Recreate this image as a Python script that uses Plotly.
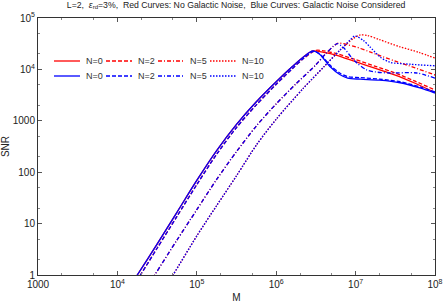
import plotly.graph_objects as go

# ---- data (log10 M, log10 SNR) ----
red_n0_logm = [4.0, 4.25, 4.5, 4.75, 5.0, 5.25, 5.5, 5.75, 6.0, 6.2, 6.35, 6.46, 6.6, 6.75, 7.0, 7.25, 7.5, 7.75, 8.0]
red_n0_logs = [-0.6, 0.0, 0.6, 1.22, 1.84, 2.42, 2.93, 3.37, 3.76, 4.05, 4.25, 4.36, 4.33, 4.28, 4.15, 4.02, 3.89, 3.73, 3.55]

red_n2_logm = [4.0, 4.29, 4.5, 4.75, 5.0, 5.25, 5.5, 5.75, 6.0, 6.2, 6.35, 6.5, 6.6, 6.75, 7.0, 7.25, 7.5, 7.75, 8.0]
red_n2_logs = [-0.7, 0.0, 0.52, 1.14, 1.76, 2.35, 2.87, 3.31, 3.71, 4.01, 4.22, 4.37, 4.36, 4.31, 4.19, 4.06, 3.93, 3.77, 3.6]

red_n5_logm = [4.2, 4.47, 4.75, 5.0, 5.25, 5.5, 5.75, 6.0, 6.25, 6.5, 6.62, 6.72, 6.78, 6.85, 6.9, 7.0, 7.18, 7.5, 7.75, 8.0]
red_n5_logs = [-0.65, 0.0, 0.68, 1.27, 1.86, 2.4, 2.9, 3.33, 3.72, 4.09, 4.3, 4.45, 4.51, 4.5, 4.48, 4.44, 4.34, 4.16, 4.03, 3.89]

red_n10_logm = [4.45, 4.7, 5.0, 5.25, 5.5, 5.76, 6.0, 6.34, 6.6, 6.8, 6.97, 7.06, 7.15, 7.3, 7.56, 7.8, 8.0]
red_n10_logs = [-0.6, 0.0, 0.76, 1.35, 1.93, 2.55, 3.03, 3.63, 4.05, 4.37, 4.6, 4.67, 4.66, 4.58, 4.44, 4.33, 4.22]

blue_n0_logm = [4.0, 4.25, 4.5, 4.75, 5.0, 5.25, 5.5, 5.75, 6.0, 6.2, 6.35, 6.46, 6.55, 6.68, 6.8, 6.9, 7.06, 7.3, 7.56, 7.81, 8.0]
blue_n0_logs = [-0.6, 0.0, 0.6, 1.22, 1.84, 2.42, 2.93, 3.37, 3.76, 4.05, 4.25, 4.36, 4.29, 4.05, 3.9, 3.83, 3.81, 3.79, 3.74, 3.64, 3.54]

blue_n2_logm = [4.0, 4.29, 4.5, 4.75, 5.0, 5.25, 5.5, 5.75, 6.0, 6.2, 6.35, 6.47, 6.55, 6.68, 6.8, 6.9, 7.06, 7.3, 7.56, 7.81, 8.0]
blue_n2_logs = [-0.7, 0.0, 0.52, 1.14, 1.76, 2.35, 2.87, 3.31, 3.71, 4.01, 4.22, 4.35, 4.3, 4.08, 3.93, 3.86, 3.84, 3.81, 3.76, 3.66, 3.56]

blue_n5_logm = [4.2, 4.47, 4.75, 5.0, 5.25, 5.5, 5.75, 6.0, 6.25, 6.5, 6.62, 6.72, 6.77, 6.85, 6.95, 7.02, 7.14, 7.25, 7.43, 7.77, 8.0]
blue_n5_logs = [-0.65, 0.0, 0.68, 1.27, 1.86, 2.4, 2.9, 3.33, 3.72, 4.09, 4.3, 4.45, 4.5, 4.42, 4.23, 4.12, 3.99, 3.95, 3.93, 3.93, 3.83]

blue_n10_logm = [4.45, 4.7, 5.0, 5.25, 5.5, 5.76, 6.0, 6.34, 6.6, 6.8, 6.93, 6.99, 7.1, 7.18, 7.31, 7.43, 7.69, 8.0]
blue_n10_logs = [-0.6, 0.0, 0.76, 1.35, 1.93, 2.55, 3.03, 3.63, 4.05, 4.37, 4.57, 4.65, 4.56, 4.44, 4.24, 4.14, 4.10, 4.07]

labels = ["N=0", "N=2", "N=5", "N=10"]
dashes = ["solid", "4px,2px", "4px,2px,1px,2px", "1.5px,1.5px"]

x_tickvals = [1e3, 1e4, 1e5, 1e6, 1e7, 1e8]
x_ticktext = ["1000", "10<sup>4</sup>", "10<sup>5</sup>", "10<sup>6</sup>", "10<sup>7</sup>", "10<sup>8</sup>"]
y_tickvals = [1, 10, 100, 1000, 1e4, 1e5]
y_ticktext = ["1", "10", "100", "1000", "10<sup>4</sup>", "10<sup>5</sup>"]

red_sets = [(red_n0_logm, red_n0_logs), (red_n2_logm, red_n2_logs), (red_n5_logm, red_n5_logs), (red_n10_logm, red_n10_logs)]
blue_sets = [(blue_n0_logm, blue_n0_logs), (blue_n2_logm, blue_n2_logs), (blue_n5_logm, blue_n5_logs), (blue_n10_logm, blue_n10_logs)]

W, H = 443, 305
ML, MR, MT, MB = 38, 8, 18, 30
PW, PH = W - ML - MR, H - MT - MB

fig = go.Figure()
for (lm, ls), lab, d in zip(red_sets, labels, dashes):
    fig.add_trace(go.Scatter(x=[10 ** v for v in lm], y=[10 ** v for v in ls], mode="lines",
                             line=dict(color="#ff0000", width=1.3, dash=d, shape="spline", smoothing=0.8),
                             name=lab, showlegend=False))
for (lm, ls), lab, d in zip(blue_sets, labels, dashes):
    fig.add_trace(go.Scatter(x=[10 ** v for v in lm], y=[10 ** v for v in ls], mode="lines",
                             line=dict(color="#0000ff", width=1.3, dash=d, shape="spline", smoothing=0.8),
                             name=lab, showlegend=False))

# manual two-row legend (swatch + label), placed in pixel terms of the plot area
def px2paper(px, py):
    return (px - ML) / PW, (H - MB - py) / PH

leg_font = dict(family="Liberation Sans, Arial, sans-serif", size=9, color="#333")
shapes, annots = [], []
for row_y, color in [(61, "#ff0000"), (76, "#0000ff")]:
    for i, (lab, d) in enumerate(zip(labels, dashes)):
        x0 = 54 + 52 * i
        a0, b0 = px2paper(x0, row_y)
        a1, _ = px2paper(x0 + 26, row_y)
        shapes.append(dict(type="line", xref="paper", yref="paper", x0=a0, x1=a1, y0=b0, y1=b0,
                           line=dict(color=color, width=1.3, dash=d)))
        at, _ = px2paper(x0 + 30, row_y)
        annots.append(dict(xref="paper", yref="paper", x=at, y=b0, text=lab, showarrow=False,
                           xanchor="left", yanchor="middle", font=leg_font))

font = dict(family="Liberation Sans, Arial, sans-serif", size=10, color="#222")
axis_common = dict(showline=True, linecolor="#333", linewidth=1, mirror="ticks", ticks="inside",
                   ticklen=4, tickcolor="#555", showgrid=False, zeroline=False, tickfont=font,
                   automargin=False,
                   minor=dict(ticks="inside", ticklen=2, tickcolor="#888", showgrid=False))
fig.update_xaxes(type="log", range=[3, 8], tickvals=x_tickvals, ticktext=x_ticktext,
                 title=dict(text="M", font=font, standoff=4), **axis_common)
fig.update_yaxes(type="log", range=[0, 5], tickvals=y_tickvals, ticktext=y_ticktext,
                 title=dict(text="SNR", font=font, standoff=4), **axis_common)

fig.update_layout(
    width=W, height=H,
    margin=dict(l=ML, r=MR, t=MT, b=MB),
    paper_bgcolor="white", plot_bgcolor="white",
    font=font,
    title=dict(text="L=2,  <i>ε</i><sub>rd</sub>=3%,  Red Curves: No Galactic Noise,  Blue Curves: Galactic Noise Considered",
               x=0.533, xanchor="center", y=0.995, yanchor="top",
               font=dict(family="Liberation Sans, Arial, sans-serif", size=8.7, color="#222")),
    shapes=shapes, annotations=annots,
)
fig.write_html("out.html", config={"displayModeBar": False},
               post_script="document.body.style.margin='0';document.body.style.padding='0';")
